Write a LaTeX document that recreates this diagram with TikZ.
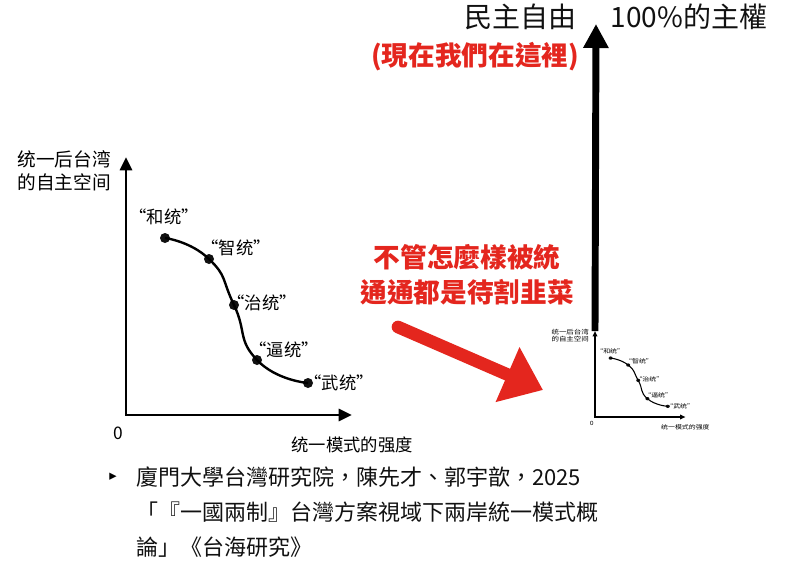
\documentclass[tikz,border=0pt]{standalone}
\usepackage{fontspec}
\setmainfont{Noto Sans CJK TC}
\newfontfamily\scfont{Noto Sans CJK SC}
\newfontfamily\symfont{DejaVu Sans}
\usetikzlibrary{positioning, arrows.meta}
\definecolor{alertred}{RGB}{228,38,30}
\definecolor{inkblack}{RGB}{17,17,17}

\tikzset{
  axisline/.style={line width=2.2pt, {Triangle[length=10pt,width=9pt]}-{Triangle[length=10pt,width=9pt]}},
  curveline/.style={line width=1.8pt},
  dot/.style={circle, fill=inkblack, inner sep=0pt, minimum size=7.5pt},
  ptlabel/.style={font=\scfont\fontsize{13}{15}\selectfont, inner sep=0pt},
  axislabel/.style={font=\scfont\fontsize{14}{17}\selectfont, align=left, inner sep=0pt},
  toptext/.style={font=\fontsize{21}{25}\selectfont, inner sep=0pt, text=inkblack},
  redtext/.style={font=\bfseries\fontsize{20}{26}\selectfont, inner sep=0pt, text=alertred, align=center},
  bigarrow/.style={line width=5.2pt, -{Triangle[length=18pt,width=18pt]}},
  brush/.style={alertred, line width=9.5pt, line cap=round, -{Triangle[length=29pt,width=43pt]}},
  reftext/.style={font=\fontsize{16.5}{26}\selectfont, inner sep=0pt, align=left, text=inkblack},
  pics/unifchart/.style={code={
    \coordinate (-o) at (0,0);
    \coordinate (-ytip) at (0,-258);
    \coordinate (-xtip) at (226,0);
    \draw[axisline] (-ytip) -- (-o) -- (-xtip);
    \node[axislabel] (-ylabel) at (-62,-244) {统一后台湾\\的自主空间};
    \node[ptlabel] (-zero) at (-8,18) {0};
    \node[ptlabel] (-xlabel) at (226,30) {统一模式的强度};
    % points on the curve
    \node[dot] (-he) at (39,-177) {};
    \node[dot] (-zhi) at (83,-156) {};
    \node[dot] (-zhili) at (108,-110) {};
    \node[dot] (-bi) at (131,-55) {};
    \node[dot] (-wu) at (182,-32) {};
    \draw[curveline] plot[smooth, tension=0.95] coordinates {(-he) (-zhi) (-zhili) (-bi) (-wu)};
    \node[ptlabel] (-helabel) at (38,-198) {“和统”};
    \node[ptlabel] (-zhilabel) at (110,-167) {“智统”};
    \node[ptlabel] (-zhililabel) at (136,-112) {“治统”};
    \node[ptlabel] (-bilabel) at (158,-65) {“逼统”};
    \node[ptlabel] (-wulabel) at (213,-32) {“武统”};
  }}
}

\begin{document}
\begin{tikzpicture}[x=0.75pt, y=-0.75pt]
\useasboundingbox[fill=white] (0,0) rectangle (800,571);

\pic (big) at (126,415) {unifchart};
\pic[xscale=0.4, yscale=0.333, transform shape,
     axisline/.style={line width=0.9pt, {Triangle[length=4pt,width=3.5pt]}-{Triangle[length=4pt,width=3.5pt]}},
     curveline/.style={line width=0.8pt}] (small) at (595,417) {unifchart};

\node[toptext] (freedom) at (520,17) {民主自由};
\node[toptext] (sovereignty) at (689,17) {100\%的主權};
\node[redtext] (here) at (475,57) {(現在我們在這裡)};
\coordinate (top) at (596,24);
\draw[bigarrow] (small-ytip) -- (top);

\node[redtext] (warn) at (467,275) {不管怎麼樣被統\\通通都是待割韭菜};
\coordinate (brushstart) at (398,327);
\coordinate (brushend) at (543,390);
\draw[brush] (brushstart) -- (brushend);

\node[font=\symfont\fontsize{11}{13}\selectfont, inner sep=0pt] (bullet) at (113,477) {▸};
\node[reftext, anchor=west] (ref) at (136,512) {廈門大學台灣研究院，陳先才、郭宇歆，2025\\「『一國兩制』台灣方案視域下兩岸統一模式概\\論」《台海研究》};
\end{tikzpicture}
\end{document}
